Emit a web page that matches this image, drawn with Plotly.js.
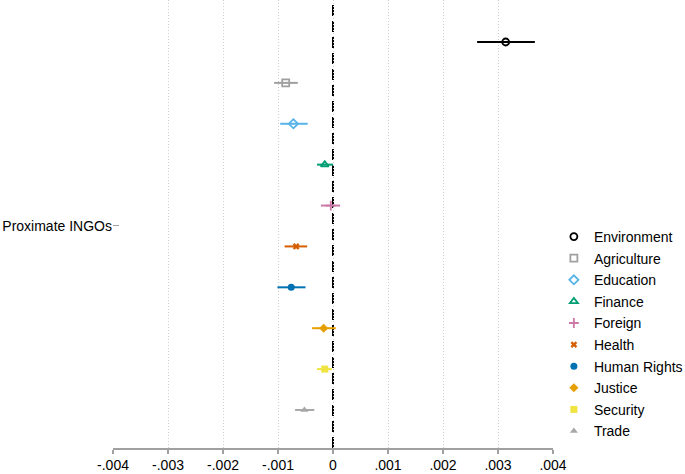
<!DOCTYPE html>
<html>
<head>
<meta charset="utf-8">
<script src="https://cdn.plot.ly/plotly-3.0.1.min.js"></script>
<style>html,body{margin:0;padding:0;background:#fff;}#chart{width:685px;height:474px;}</style>
</head>
<body>
<div id="chart"></div>
<script>
// Data
const categories = ["Environment","Agriculture","Education","Finance","Foreign","Health","Human Rights","Justice","Security","Trade"];
const estimates  = [0.00314, -0.00086, -0.00072, -0.00015, -0.00004, -0.00067, -0.00076, -0.00017, -0.00015, -0.00052];
const ciLower    = [0.00262, -0.00107, -0.00096, -0.00029, -0.00022, -0.00088, -0.00101, -0.00038, -0.00029, -0.00069];
const ciUpper    = [0.00367, -0.00064, -0.00046, 0.00000, 0.00013, -0.00047, -0.00050, 0.00005, -0.00002, -0.00034];
const rowLabel   = "Proximate INGOs";
const xTickVals  = [-0.004,-0.003,-0.002,-0.001,0,0.001,0.002,0.003,0.004];
const xTickText  = ["-.004","-.003","-.002","-.001","0",".001",".002",".003",".004"];

const colors  = ["#000000","#a0a0a0","#56b4e9","#009e73","#cc79a7","#d55e00","#0072b2","#e69f00","#f0e442","#a8a8a8"];
const symbols = ["circle-open","square-open","diamond-open","triangle-up-open","cross-thin-open","x","circle","diamond","square","triangle-up"];

const n = categories.length;
const traces = categories.map((c,i)=>{
  const pos = n-1-i;
  return {
    type:"scatter", mode:"markers", name:c, legendgroup:"g"+i,
    x:[estimates[i]], y:[pos],
    error_x:{type:"data", symmetric:false, array:[ciUpper[i]-estimates[i]], arrayminus:[estimates[i]-ciLower[i]],
             color:colors[i], thickness:2, width:0},
    marker:{symbol:symbols[i], color:colors[i], size: (symbols[i]==="x"?6:7),
            line:{color:colors[i], width:(symbols[i].indexOf("open")>=0?1.8:0)}},
    showlegend:true
  };
});

const font = "Liberation Sans, Arial, Helvetica, sans-serif";
const layout = {
  width:685, height:474,
  margin:{l:113, r:132, t:0, b:26, autoexpand:false},
  paper_bgcolor:"#fff", plot_bgcolor:"#fff",
  font:{family:font, size:14, color:"#000"},
  showlegend:true,
  legend:{x:1.002, xanchor:"left", y:0.5067, yanchor:"top", font:{size:14, family:font}, bgcolor:"rgba(0,0,0,0)", tracegroupgap:0.4},
  xaxis:{range:[-0.004,0.004], tickvals:xTickVals, ticktext:xTickText, showgrid:true, gridcolor:"#cfcfcf", griddash:"1px,2px", gridwidth:1,
         zeroline:false, showline:true, linecolor:"#a0a0a0", linewidth:1.5, ticks:"outside", ticklen:4, tickcolor:"#a0a0a0", tickwidth:1.5,
         tickfont:{size:14}},
  yaxis:{range:[-0.93,10.027], tickvals:[(n-1)/2], ticktext:[rowLabel], showgrid:false, zeroline:false, showline:false,
         ticks:"inside", ticklen:6, tickcolor:"#a0a0a0", tickwidth:1, tickfont:{size:14}},
  shapes:[{type:"line", xref:"x", yref:"paper", x0:0, x1:0, y0:0, y1:1, line:{color:"#000", width:2, dash:"11px,5px"}, layer:"below"}]
};
Plotly.newPlot("chart", traces, layout, {displayModeBar:false, staticPlot:true});
</script>
</body>
</html>
